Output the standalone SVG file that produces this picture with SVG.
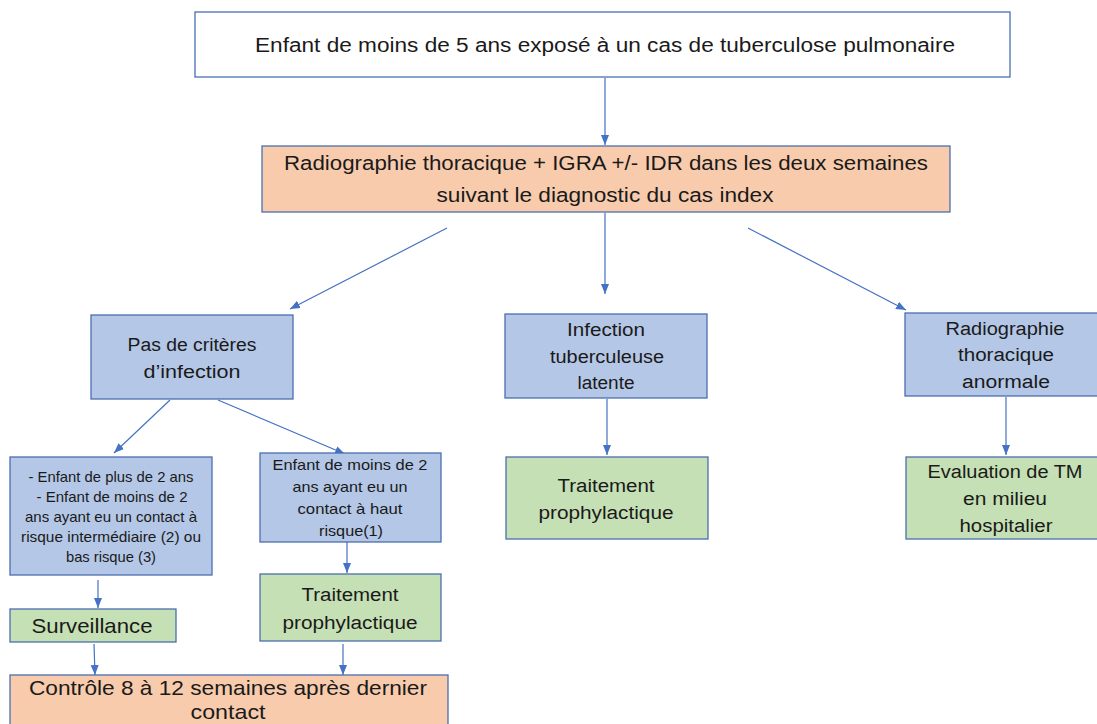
<svg xmlns="http://www.w3.org/2000/svg" width="1097" height="724" viewBox="0 0 1097 724">
<defs>
<marker id="ah" markerUnits="userSpaceOnUse" markerWidth="10" markerHeight="10" viewBox="0 0 10 10" refX="10" refY="5" orient="auto">
<path d="M0,1 L10,5 L0,9 z" fill="#4472c4"/>
</marker>
<style>
.box{stroke:#4a6fb0;stroke-width:1.3}
.w{fill:#ffffff}
.b{fill:#b4c7e7}
.g{fill:#c5e0b4}
.o{fill:#f8cbad}
text{font-family:"Liberation Sans",Arial,sans-serif;fill:#1a1a1a;text-anchor:middle}
.t20{font-size:20px}
.t18{font-size:18px}
.t14{font-size:14.5px}
.t21{font-size:21px}
.c line{stroke:#4472c4;stroke-width:1.2;marker-end:url(#ah)}
</style>
</defs>
<rect width="1097" height="724" fill="#ffffff"/>
<g class="c" id="connectors">
<line x1="605" y1="78" x2="605" y2="145"/>
<line x1="447" y1="228" x2="290" y2="309"/>
<line x1="605" y1="213" x2="605" y2="294"/>
<line x1="748" y1="228" x2="906" y2="310"/>
<line x1="607" y1="399" x2="607" y2="455"/>
<line x1="1006" y1="397" x2="1006" y2="455"/>
<line x1="170" y1="400" x2="114" y2="453"/>
<line x1="218" y1="400" x2="345" y2="454"/>
<line x1="347" y1="533" x2="347" y2="573"/>
<line x1="98" y1="580" x2="98" y2="608"/>
<line x1="94" y1="644" x2="95" y2="675"/>
<line x1="343" y1="644" x2="343" y2="675"/>
</g>
<g id="n1"><rect class="box w" x="195" y="12" width="815" height="65"/>
<text class="t20" x="605" y="52" textLength="700" lengthAdjust="spacingAndGlyphs">Enfant de moins de 5 ans exposé à un cas de tuberculose pulmonaire</text></g>
<g id="n2"><rect class="box o" x="262" y="146" width="688" height="66"/>
<text class="t20" x="606" y="170" textLength="644" lengthAdjust="spacingAndGlyphs">Radiographie thoracique + IGRA +/- IDR dans les deux semaines</text>
<text class="t20" x="605" y="202" textLength="337" lengthAdjust="spacingAndGlyphs">suivant le diagnostic du cas index</text></g>
<g id="n3"><rect class="box b" x="91" y="315" width="202" height="84"/>
<text class="t18" x="192" y="351" textLength="129" lengthAdjust="spacingAndGlyphs">Pas de critères</text>
<text class="t18" x="192" y="378" textLength="97" lengthAdjust="spacingAndGlyphs">d’infection</text></g>
<g id="n4"><rect class="box b" x="505" y="314" width="202" height="84"/>
<text class="t18" x="606" y="336" textLength="78" lengthAdjust="spacingAndGlyphs">Infection</text>
<text class="t18" x="607" y="363" textLength="114" lengthAdjust="spacingAndGlyphs">tuberculeuse</text>
<text class="t18" x="606" y="389" textLength="57" lengthAdjust="spacingAndGlyphs">latente</text></g>
<g id="n5"><rect class="box b" x="905" y="313" width="195" height="83"/>
<text class="t18" x="1005" y="335" textLength="119" lengthAdjust="spacingAndGlyphs">Radiographie</text>
<text class="t18" x="1006" y="361" textLength="96" lengthAdjust="spacingAndGlyphs">thoracique</text>
<text class="t18" x="1006" y="388" textLength="88" lengthAdjust="spacingAndGlyphs">anormale</text></g>
<g id="n6"><rect class="box g" x="506" y="457" width="202" height="82"/>
<text class="t18" x="606" y="492" textLength="97" lengthAdjust="spacingAndGlyphs">Traitement</text>
<text class="t18" x="606" y="519" textLength="135" lengthAdjust="spacingAndGlyphs">prophylactique</text></g>
<g id="n7"><rect class="box g" x="906" y="457" width="195" height="82"/>
<text class="t18" x="1005" y="478" textLength="155" lengthAdjust="spacingAndGlyphs">Evaluation de TM</text>
<text class="t18" x="1005" y="505" textLength="84" lengthAdjust="spacingAndGlyphs">en milieu</text>
<text class="t18" x="1006" y="532" textLength="93" lengthAdjust="spacingAndGlyphs">hospitalier</text></g>
<g id="n8"><rect class="box b" x="10" y="457" width="202" height="118"/>
<text class="t14" x="111" y="482" textLength="165" lengthAdjust="spacingAndGlyphs">- Enfant de plus de 2 ans</text>
<text class="t14" x="112" y="502" textLength="151" lengthAdjust="spacingAndGlyphs">- Enfant de moins de 2</text>
<text class="t14" x="111" y="522" textLength="172" lengthAdjust="spacingAndGlyphs">ans ayant eu un contact à</text>
<text class="t14" x="111" y="542" textLength="180" lengthAdjust="spacingAndGlyphs">risque intermédiaire (2) ou</text>
<text class="t14" x="111" y="562" textLength="90" lengthAdjust="spacingAndGlyphs">bas risque (3)</text></g>
<g id="n9"><rect class="box b" x="260" y="453" width="181" height="89"/>
<text class="t14" x="350" y="470" textLength="155" lengthAdjust="spacingAndGlyphs">Enfant de moins de 2</text>
<text class="t14" x="350" y="492" textLength="115" lengthAdjust="spacingAndGlyphs">ans ayant eu un</text>
<text class="t14" x="350" y="514" textLength="105" lengthAdjust="spacingAndGlyphs">contact à haut</text>
<text class="t14" x="351" y="536" textLength="64" lengthAdjust="spacingAndGlyphs">risque(1)</text></g>
<g id="n10"><rect class="box g" x="260" y="574" width="181" height="67"/>
<text class="t18" x="350" y="601" textLength="97" lengthAdjust="spacingAndGlyphs">Traitement</text>
<text class="t18" x="350" y="629" textLength="135" lengthAdjust="spacingAndGlyphs">prophylactique</text></g>
<g id="n11"><rect class="box g" x="10" y="609" width="166" height="33"/>
<text class="t21" x="92" y="633" textLength="121" lengthAdjust="spacingAndGlyphs">Surveillance</text></g>
<g id="n12"><rect class="box o" x="10" y="675" width="438" height="60"/>
<text class="t21" x="228" y="695" textLength="398" lengthAdjust="spacingAndGlyphs">Contrôle 8 à 12 semaines après dernier</text>
<text class="t21" x="228" y="719" textLength="75" lengthAdjust="spacingAndGlyphs">contact</text></g>
</svg>
